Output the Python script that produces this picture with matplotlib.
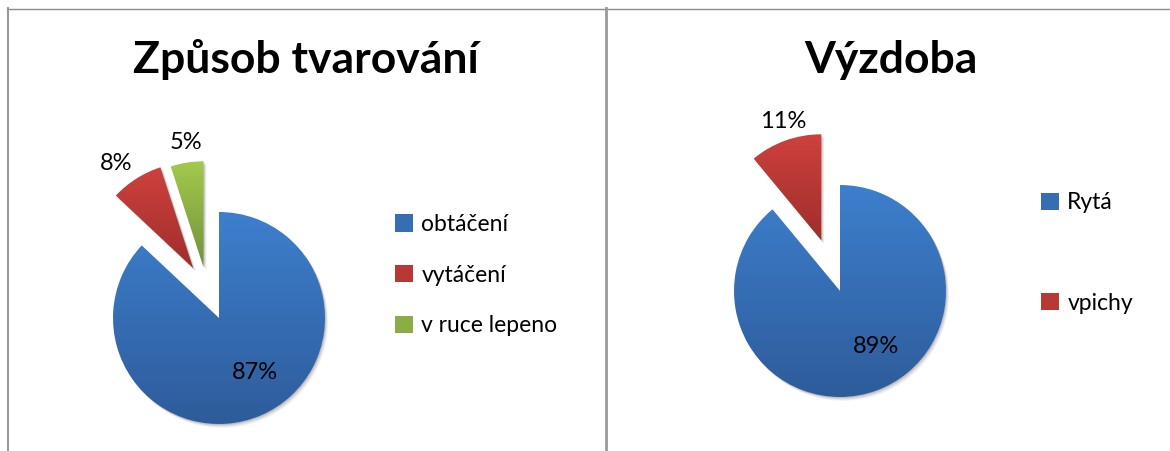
import numpy as np
import matplotlib.pyplot as plt
from matplotlib.patches import Patch, PathPatch
from matplotlib.lines import Line2D
from matplotlib.colors import LinearSegmentedColormap, to_rgb
from matplotlib.transforms import Affine2D

plt.rcParams['font.family'] = ['Lato', 'DejaVu Sans']

W, H = 1170, 451

# data
left_title = "Způsob tvarování"
left_labels = ["obtáčení", "vytáčení", "v ruce lepeno"]
left_values = [87, 8, 5]

right_title = "Výzdoba"
right_labels = ["Rytá", "vpichy"]
right_values = [89, 11]

# (top colour, bottom colour) of the gradients
blue = ("#3d7fcd", "#2e5c9b")
red = ("#cd413d", "#a02e2c")
green = ("#a3c94d", "#72933a")


def gradient_pie(ax, values, colors, center, radius, expl, expl_shift, lab_dist, lab_shift):
    wedges, _ = ax.pie(values, center=center, radius=radius, startangle=90,
                       counterclock=False, wedgeprops=dict(linewidth=0))
    for w, (c_top, c_bot), e, es, d, s, v in zip(wedges, colors, expl, expl_shift,
                                                 lab_dist, lab_shift, values):
        mid = (w.theta1 + w.theta2) / 2
        if e:
            a = np.deg2rad(mid + es)
            w.set_center((center[0] + e * radius * np.cos(a),
                          center[1] + e * radius * np.sin(a)))
        path = w.get_path()
        bb = path.get_extents()
        # soft shadow
        for k, al in [(4, 0.04), (3, 0.06), (2, 0.08), (1, 0.1)]:
            sh = PathPatch(path.transformed(Affine2D().translate(k * 0.8, -k)),
                           facecolor="#000000", edgecolor="none", alpha=al, zorder=1)
            ax.add_patch(sh)
        w.set_facecolor("none")
        w.set_zorder(3)
        cmap = LinearSegmentedColormap.from_list("g", [c_bot, c_top])
        im = ax.imshow(np.linspace(1, 0, 64).reshape(-1, 1), cmap=cmap, aspect="auto",
                       extent=(bb.x0, bb.x1, bb.y0, bb.y1), zorder=2, interpolation="bilinear")
        im.set_clip_path(w)
        la = np.deg2rad(mid + s)
        cx, cy = w.center
        ax.text(cx + d * w.r * np.cos(la), cy + d * w.r * np.sin(la), f"{v}%",
                ha="center", va="center", fontsize=17, color="black", zorder=5)
    return wedges


def mid_color(c):
    return tuple((np.array(to_rgb(c[0])) + np.array(to_rgb(c[1]))) / 2)


fig = plt.figure(figsize=(W / 100, H / 100), dpi=100)
ax = fig.add_axes([0, 0, 1, 1])

gradient_pie(ax, left_values, [blue, red, green], (219, H - 318), 106,
             [0, 0.53, 0.5], [0, -5, 8], [0.62, 1.23, 1.19], [10, 4, -1])
gradient_pie(ax, right_values, [blue, red], (840, H - 291), 106,
             [0, 0.51], [0, 0.5], [0.62, 1.18], [13, -2])

ax.set_xlim(0, W)
ax.set_ylim(0, H)
ax.set_axis_off()

# panel frames, in pixel coordinates of the figure
px = Affine2D().scale(1 / W, -1 / H).translate(0, 1) + fig.transFigure
fig.add_artist(Line2D([7, W], [8.5, 8.5], transform=px, color="#8c8c8c", linewidth=1.0))
fig.add_artist(Line2D([8, 8], [8, H], transform=px, color="#999999", linewidth=1.5))
fig.add_artist(Line2D([605.5, 605.5], [8, H], transform=px, color="#999999", linewidth=2.0))

fig.text(306 / W, 1 - 60 / H, left_title, ha="center", va="center",
         fontsize=32, fontweight="bold")
fig.text(891 / W, 1 - 60 / H, right_title, ha="center", va="center",
         fontsize=32, fontweight="bold")

h_left = [Patch(facecolor=mid_color(c), edgecolor="none") for c in [blue, red, green]]
fig.legend(h_left, left_labels, loc="center left", bbox_to_anchor=(395 / W, 1 - 275 / H),
           frameon=False, fontsize=16.5, borderpad=0, borderaxespad=0,
           handlelength=0.8, handleheight=0.8, handletextpad=0.35, labelspacing=1.3)

h_right = [Patch(facecolor=mid_color(c), edgecolor="none") for c in [blue, red]]
fig.legend(h_right, right_labels, loc="center left", bbox_to_anchor=(1041 / W, 1 - 253 / H),
           frameon=False, fontsize=16.5, borderpad=0, borderaxespad=0,
           handlelength=0.8, handleheight=0.8, handletextpad=0.35, labelspacing=3.45)

fig.savefig("out.png", dpi=100)
